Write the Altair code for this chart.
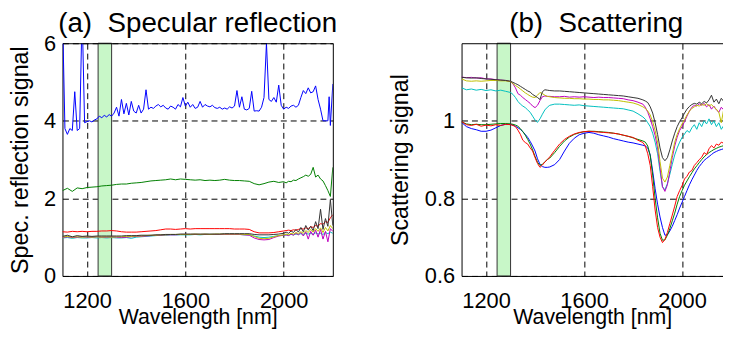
import altair as alt
import pandas as pd

FONT = "Liberation Sans"
SERIES = ["b", "g", "r", "c", "m", "y", "k"]
COLORS = ["#0000ff", "#008000", "#ff0000", "#00bfbf", "#bf00bf", "#bfbf00", "#333333"]

band_start = [1245]
band_end = [1300]

# ---------------- panel (a): specular reflection ----------------
wl_a_blue = [1100, 1110, 1120, 1130, 1140, 1150, 1160, 1170, 1180, 1190,
             1200, 1210, 1220, 1230, 1240, 1250, 1260, 1270, 1280, 1290,
             1300, 1310, 1320, 1330, 1340, 1350, 1360, 1370, 1380, 1390,
             1400, 1410, 1420, 1430, 1440, 1450, 1460, 1470, 1480, 1490,
             1500, 1510, 1520, 1530, 1540, 1550, 1560, 1570, 1580, 1590,
             1600, 1610, 1620, 1630, 1640, 1650, 1660, 1670, 1680, 1690,
             1700, 1710, 1720, 1730, 1740, 1750, 1760, 1770, 1780, 1790,
             1800, 1810, 1820, 1830, 1840, 1850, 1860, 1870, 1880, 1890,
             1900, 1910, 1920, 1930, 1940, 1950, 1960, 1970, 1980, 1990,
             2000, 2010, 2020, 2030, 2040, 2050, 2060, 2070, 2080, 2090,
             2100, 2110, 2120, 2130, 2140, 2150, 2160, 2170, 2180, 2185,
             2190, 2200]
spec_blue = [6.8, 3.8, 3.65, 3.8, 3.75, 4.75, 3.75, 3.8, 6.8, 3.95,
             3.98, 4.0, 3.97, 4.02, 4.05, 4.12, 4.08, 4.14, 4.1, 4.16,
             4.12, 4.2, 4.35, 4.12, 4.55, 4.18, 4.45, 4.15, 4.5, 4.25,
             4.2, 4.4, 4.2, 4.3, 4.8, 4.3, 4.35, 4.32, 4.38, 4.42,
             4.36, 4.4, 4.33, 4.3, 4.38, 4.35, 4.3, 4.42, 4.36, 4.6,
             4.38, 4.48, 4.35, 4.42, 4.32, 4.35, 4.5, 4.35, 4.42, 4.38,
             4.36, 4.4, 4.34, 4.32, 4.35, 4.3, 4.33, 4.3, 4.36, 4.33,
             4.38, 4.78, 4.35, 4.62, 4.3, 4.28, 4.32, 4.76, 4.25, 4.26,
             4.25, 4.35, 4.6, 6.0, 4.55, 4.5, 4.6, 4.48, 4.92, 4.4,
             4.3, 4.35, 4.32, 4.38, 4.4, 4.35, 4.4, 4.6, 4.78, 4.7,
             4.85, 4.72, 4.75, 4.9, 4.55, 4.3, 4.0, 4.0, 4.0, 4.62,
             3.88, 4.95]

wl_a = [1100, 1120, 1140, 1160, 1180, 1200, 1220, 1240, 1260, 1280,
        1300, 1320, 1340, 1360, 1380, 1400, 1420, 1440, 1460, 1480,
        1500, 1520, 1540, 1560, 1580, 1600, 1620, 1640, 1660, 1680,
        1700, 1720, 1740, 1760, 1780, 1800, 1820, 1840, 1860, 1880,
        1900, 1920, 1940, 1960, 1980, 2000,
        2010, 2020, 2030, 2040, 2050, 2060, 2070, 2080, 2090, 2100,
        2110, 2120, 2130, 2140, 2150, 2160, 2170, 2180, 2190, 2200]
spec_green = [2.20, 2.26, 2.18, 2.27, 2.25, 2.28, 2.29, 2.30, 2.32, 2.33,
              2.34, 2.36, 2.37, 2.37, 2.39, 2.40, 2.41, 2.43, 2.45, 2.46,
              2.47, 2.48, 2.50, 2.48, 2.50, 2.49, 2.48, 2.47, 2.48, 2.46,
              2.47, 2.46, 2.47, 2.49, 2.47, 2.46, 2.46, 2.45, 2.44, 2.38,
              2.35, 2.38, 2.42, 2.44, 2.41, 2.43,
              2.40, 2.44, 2.43, 2.47, 2.46, 2.50, 2.53, 2.56, 2.60, 2.57,
              2.62, 2.80, 2.55, 2.60, 2.50, 2.45, 2.33, 2.20, 2.05, 2.80]
spec_red = [1.14, 1.13, 1.15, 1.14, 1.15, 1.14, 1.15, 1.15, 1.16, 1.16,
            1.17, 1.16, 1.14, 1.13, 1.13, 1.13, 1.14, 1.15, 1.16, 1.17,
            1.19, 1.21, 1.21, 1.20, 1.21, 1.22, 1.21, 1.22, 1.22, 1.22,
            1.22, 1.22, 1.22, 1.22, 1.22, 1.21, 1.21, 1.21, 1.20, 1.14,
            1.11, 1.11, 1.11, 1.12, 1.14, 1.16,
            1.17, 1.18, 1.17, 1.19, 1.18, 1.20, 1.22, 1.21, 1.24, 1.22,
            1.27, 1.25, 1.30, 1.28, 1.35, 1.33, 1.40, 1.38, 1.50, 1.58]
spec_cyan = [0.98, 0.99, 0.97, 0.99, 0.98, 0.98, 0.99, 0.98, 0.99, 0.98,
             0.99, 0.98, 0.98, 0.99, 0.97, 1.00, 1.01, 1.02, 1.03, 1.04,
             1.05, 1.05, 1.06, 1.06, 1.06, 1.06, 1.06, 1.07, 1.06, 1.07,
             1.07, 1.07, 1.07, 1.07, 1.07, 1.07, 1.07, 1.06, 1.06, 1.03,
             1.00, 0.99, 1.00, 1.02, 1.04, 1.05,
             1.06, 1.05, 1.07, 1.06, 1.08, 1.07, 1.09, 1.07, 1.10, 1.08,
             1.10, 1.07, 1.11, 1.08, 1.10, 1.07, 1.12, 1.09, 1.13, 1.10]
spec_magenta = [0.99, 1.01, 0.99, 1.00, 1.01, 1.00, 1.00, 1.01, 1.00, 1.00,
                1.01, 1.00, 0.99, 1.00, 1.01, 1.02, 1.02, 1.03, 1.04, 1.05,
                1.05, 1.06, 1.06, 1.06, 1.07, 1.07, 1.07, 1.07, 1.07, 1.07,
                1.07, 1.07, 1.07, 1.07, 1.07, 1.07, 1.07, 1.06, 1.05, 0.98,
                0.94, 0.93, 0.94, 0.99, 1.03, 1.05,
                1.06, 1.04, 1.08, 1.05, 1.10, 1.06, 1.12, 1.03, 1.14, 0.95,
                1.15, 1.05, 1.18, 1.00, 1.20, 0.95, 1.15, 0.88, 1.22, 1.15]
spec_yellow = [1.00, 1.02, 1.00, 1.01, 1.00, 1.01, 1.00, 1.01, 1.00, 1.01,
               1.00, 1.01, 1.01, 1.02, 1.02, 1.03, 1.03, 1.04, 1.05, 1.05,
               1.06, 1.06, 1.07, 1.07, 1.07, 1.07, 1.07, 1.08, 1.07, 1.08,
               1.07, 1.08, 1.08, 1.08, 1.08, 1.08, 1.08, 1.07, 1.07, 1.02,
               0.97, 0.96, 0.97, 1.01, 1.04, 1.06,
               1.08, 1.06, 1.10, 1.08, 1.12, 1.09, 1.14, 1.10, 1.17, 1.12,
               1.20, 1.13, 1.22, 1.15, 1.24, 1.12, 1.25, 1.16, 1.30, 1.22]
spec_black = [1.02, 1.05, 1.01, 1.04, 1.02, 1.03, 1.02, 1.03, 1.03, 1.03,
              1.03, 1.03, 1.03, 1.04, 1.04, 1.04, 1.05, 1.05, 1.05, 1.06,
              1.06, 1.07, 1.07, 1.07, 1.08, 1.08, 1.08, 1.08, 1.08, 1.08,
              1.08, 1.08, 1.08, 1.09, 1.09, 1.09, 1.09, 1.09, 1.09, 1.07,
              1.06, 1.06, 1.06, 1.07, 1.08, 1.10,
              1.13, 1.10, 1.16, 1.12, 1.20, 1.13, 1.25, 1.14, 1.30, 1.18,
              1.28, 1.17, 1.40, 1.22, 1.72, 1.20, 1.48, 1.28, 1.97, 1.30]

# ---------------- panel (b): scattering ----------------
wl_b = [1100, 1120, 1140, 1160, 1180, 1200, 1220, 1240, 1260, 1280, 1300,
        1310, 1320, 1330, 1340, 1350, 1360, 1370, 1380, 1390, 1400, 1410, 1420, 1430, 1440, 1450,
        1460, 1480, 1500, 1520, 1540, 1560, 1580, 1600, 1620, 1640, 1660, 1680, 1700, 1720, 1740,
        1760, 1780, 1800, 1820, 1840,
        1850, 1860, 1870, 1880, 1890, 1900, 1910, 1920, 1930, 1940, 1950, 1960, 1970, 1980, 1990,
        2000, 2010, 2020, 2030, 2040, 2050, 2060, 2070, 2080, 2090, 2100, 2110, 2120, 2130, 2140,
        2150, 2160, 2170, 2180, 2190, 2200]
scat_black = [1.112, 1.111, 1.110, 1.111, 1.109, 1.108, 1.107, 1.106, 1.105, 1.104, 1.102,
              1.099, 1.096, 1.093, 1.089, 1.085, 1.081, 1.077, 1.074, 1.068, 1.064, 1.060, 1.055, 1.075, 1.080, 1.079,
              1.078, 1.077, 1.077, 1.076, 1.075, 1.074, 1.073, 1.072, 1.071, 1.070, 1.069, 1.068, 1.067, 1.066, 1.065,
              1.064, 1.062, 1.060, 1.058, 1.054,
              1.051, 1.047, 1.036, 1.020, 0.995, 0.965, 0.930, 0.905, 0.897, 0.905, 0.925, 0.948, 0.968, 0.985, 0.998,
              1.008, 1.020, 1.030, 1.037, 1.042, 1.045, 1.043, 1.048, 1.044, 1.050, 1.046, 1.054, 1.066, 1.048, 1.056,
              1.044, 1.058, 1.050, 1.056, 1.049, 1.054]
scat_magenta = [1.113, 1.111, 1.112, 1.110, 1.111, 1.108, 1.108, 1.106, 1.105, 1.104, 1.101,
                1.095, 1.085, 1.070, 1.066, 1.060, 1.055, 1.050, 1.045, 1.038, 1.034, 1.040, 1.052, 1.062, 1.064, 1.063,
                1.063, 1.062, 1.062, 1.063, 1.061, 1.062, 1.061, 1.062, 1.061, 1.060, 1.061, 1.060, 1.060, 1.059, 1.058,
                1.057, 1.054, 1.052, 1.048, 1.043,
                1.035, 1.022, 1.005, 0.985, 0.962, 0.930, 0.880, 0.830, 0.818, 0.835, 0.870, 0.905, 0.935, 0.958, 0.975,
                0.985, 0.998, 1.012, 1.025, 1.035, 1.040, 1.038, 1.044, 1.040, 1.045, 1.036, 1.042, 1.030, 1.038, 1.028,
                1.022, 1.035, 1.028, 1.025, 1.030, 1.028]
scat_yellow = [1.108, 1.103, 1.102, 1.103, 1.102, 1.103, 1.104, 1.104, 1.103, 1.103, 1.101,
               1.096, 1.091, 1.087, 1.082, 1.077, 1.072, 1.068, 1.064, 1.061, 1.060, 1.066, 1.073, 1.070, 1.066, 1.063,
               1.062, 1.060, 1.059, 1.058, 1.058, 1.057, 1.057, 1.056, 1.056, 1.055, 1.055, 1.054, 1.054, 1.053, 1.052,
               1.050, 1.048, 1.046, 1.042, 1.036,
               1.032, 1.025, 1.015, 0.998, 0.975, 0.945, 0.895, 0.852, 0.842, 0.855, 0.885, 0.915, 0.945, 0.965, 0.980,
               0.992, 1.003, 1.015, 1.025, 1.032, 1.036, 1.040, 1.038, 1.042, 1.040, 1.044, 1.038, 1.042, 1.035, 1.030,
               1.022, 0.995, 1.030, 1.035, 1.040, 1.038]
scat_cyan = [1.085, 1.080, 1.082, 1.079, 1.081, 1.078, 1.080, 1.077, 1.079, 1.076, 1.073,
             1.068, 1.060, 1.050, 1.043, 1.038, 1.034, 1.028, 1.022, 1.012, 1.002, 0.996, 1.005, 1.017, 1.028, 1.035,
             1.040, 1.043, 1.043, 1.042, 1.041, 1.040, 1.041, 1.039, 1.038, 1.037, 1.036, 1.035, 1.034, 1.033, 1.032,
             1.031, 1.028, 1.025, 1.018, 1.010,
             1.004, 0.995, 0.985, 0.968, 0.945, 0.915, 0.870, 0.830, 0.822, 0.838, 0.862, 0.888, 0.912, 0.930, 0.945,
             0.957, 0.966, 0.975, 0.970, 0.982, 0.990, 0.978, 0.995, 0.985, 1.000, 0.992, 1.005, 0.990, 1.000, 0.985,
             0.995, 0.978, 0.988, 0.982, 0.990, 0.985]
scat_blue = [0.996, 0.985, 0.980, 0.977, 0.973, 0.973, 0.976, 0.982, 0.988, 0.991, 0.991,
             0.989, 0.986, 0.982, 0.978, 0.972, 0.965, 0.957, 0.947, 0.935, 0.922, 0.902, 0.888, 0.882, 0.880, 0.880,
             0.881, 0.887, 0.900, 0.922, 0.942, 0.955, 0.964, 0.968, 0.970, 0.968, 0.964, 0.961, 0.958, 0.954, 0.951,
             0.948, 0.945, 0.943, 0.940, 0.937,
             0.935, 0.930, 0.912, 0.870, 0.825, 0.785, 0.752, 0.725, 0.705, 0.706, 0.716, 0.728, 0.743, 0.758, 0.775,
             0.790, 0.805, 0.820, 0.835, 0.848, 0.860, 0.872, 0.882, 0.890, 0.898, 0.903, 0.908, 0.913, 0.918, 0.921,
             0.924, 0.926, 0.928, 0.930, 0.932, 0.934]
scat_red = [0.998, 0.990, 0.988, 0.991, 0.986, 0.989, 0.987, 0.990, 0.988, 0.991, 0.990,
            0.988, 0.985, 0.976, 0.965, 0.950, 0.944, 0.940, 0.930, 0.922, 0.905, 0.890, 0.880, 0.886, 0.894, 0.900,
            0.907, 0.924, 0.940, 0.952, 0.960, 0.966, 0.970, 0.972, 0.973, 0.972, 0.971, 0.970, 0.969, 0.968, 0.966,
            0.963, 0.960, 0.957, 0.950, 0.944,
            0.935, 0.915, 0.885, 0.830, 0.770, 0.725, 0.700, 0.686, 0.694, 0.712, 0.735, 0.757, 0.780, 0.805, 0.820,
            0.833, 0.850, 0.857, 0.868, 0.872, 0.885, 0.892, 0.900, 0.906, 0.918, 0.913, 0.928, 0.936, 0.930, 0.940,
            0.937, 0.945, 0.942, 0.948, 0.945, 0.950]
scat_green = [0.997, 0.992, 0.990, 0.991, 0.990, 0.990, 0.991, 0.992, 0.993, 0.993, 0.992,
              0.991, 0.989, 0.986, 0.980, 0.972, 0.963, 0.952, 0.940, 0.925, 0.908, 0.893, 0.885, 0.888, 0.894, 0.900,
              0.904, 0.918, 0.934, 0.948, 0.958, 0.965, 0.969, 0.972, 0.973, 0.973, 0.972, 0.971, 0.970, 0.968, 0.966,
              0.963, 0.960, 0.956, 0.952, 0.948,
              0.945, 0.935, 0.910, 0.860, 0.800, 0.750, 0.710, 0.692, 0.693, 0.705, 0.722, 0.742, 0.762, 0.785, 0.805,
              0.820, 0.834, 0.845, 0.856, 0.866, 0.876, 0.884, 0.892, 0.900, 0.907, 0.913, 0.918, 0.922, 0.926, 0.929,
              0.932, 0.934, 0.936, 0.938, 0.940, 0.940]


def long_frame(items):
    rows = []
    for s, wl, vals in items:
        for w, v in zip(wl, vals):
            rows.append({"series": s, "wl": w, "val": v})
    return pd.DataFrame(rows)


df_a = long_frame([
    ("b", wl_a_blue, spec_blue), ("g", wl_a, spec_green), ("r", wl_a, spec_red),
    ("c", wl_a, spec_cyan), ("m", wl_a, spec_magenta), ("y", wl_a, spec_yellow),
    ("k", wl_a, spec_black)])
df_b = long_frame([
    ("b", wl_b, scat_blue), ("g", wl_b, scat_green), ("r", wl_b, scat_red),
    ("c", wl_b, scat_cyan), ("m", wl_b, scat_magenta), ("y", wl_b, scat_yellow),
    ("k", wl_b, scat_black)])
df_band = pd.DataFrame({"start": band_start, "end": band_end})

color = alt.Color("series:N", scale=alt.Scale(domain=SERIES, range=COLORS), legend=None)

LABEL_SIZE = 22
AX = dict(labelFont=FONT, titleFont=FONT, labelFontSize=LABEL_SIZE,
          labelColor="black", titleColor="black", titleFontWeight="normal")


def main_x(domain):
    return alt.X("wl:Q", scale=alt.Scale(domain=domain, nice=False, zero=False),
                 axis=alt.Axis(values=[1200, 1600, 2000], format="d", title="Wavelength [nm]",
                               grid=True, gridDash=[6, 4], gridColor="black", gridOpacity=1,
                               ticks=False, tickSize=0, domain=True, domainColor="black",
                               labelPadding=15, titlePadding=-5, titleFontSize=21.5, **AX))


def main_y(domain, values, fmt, title, tpad):
    return alt.Y("val:Q", scale=alt.Scale(domain=domain, nice=False, zero=False),
                 axis=alt.Axis(values=values, format=fmt, title=title,
                               grid=True, gridDash=[6, 4], gridColor="black", gridOpacity=1,
                               ticks=False, tickSize=0, domain=True, domainColor="black",
                               labelPadding=7, titlePadding=tpad, titleFontSize=23.5, **AX))


def border_layer(df, domain_x, domain_y, with_right):
    top_axis = alt.Axis(orient="top", labels=False, ticks=False, grid=False, domain=True,
                        domainColor="black", title=None, zindex=1)
    right_axis = (alt.Axis(orient="right", labels=False, ticks=False, grid=False, domain=True,
                           domainColor="black", title=None, zindex=1) if with_right else None)
    return alt.Chart(df).mark_line(opacity=0, clip=True).encode(
        x=alt.X("wl:Q", scale=alt.Scale(domain=domain_x, nice=False, zero=False), axis=top_axis),
        y=alt.Y("val:Q", scale=alt.Scale(domain=domain_y, nice=False, zero=False), axis=right_axis),
        detail="series:N")


def band_layer():
    return alt.Chart(df_band).mark_rect(fill="#c8f7c8", stroke="#333333", strokeWidth=1).encode(
        x=alt.X("start:Q", axis=None), x2="end:Q")


PLOT_H = 235

# panel a
dom_xa = [1100, 2200]
dom_ya = [0, 6]
lines_a = alt.Chart(df_a).mark_line(strokeWidth=1, clip=True).encode(
    x=main_x(dom_xa),
    y=main_y(dom_ya, [0, 2, 4, 6], "d", "Spec. reflection signal", 11.5),
    color=color)
panel_a = alt.layer(band_layer(), lines_a, border_layer(df_a, dom_xa, dom_ya, True)).resolve_axis(
    x="independent", y="independent").properties(
    width=273, height=PLOT_H,
    title=alt.TitleParams("(a)\u00a0 Specular reflection", fontSize=28, font=FONT,
                          fontWeight="normal", frame="group", anchor="middle", offset=-6, color="black"))

# panel b
dom_xb = [1100, 2167]
dom_yb = [0.6, 1.2]
lines_b = alt.Chart(df_b).mark_line(strokeWidth=1, clip=True).encode(
    x=main_x(dom_xb),
    y=main_y(dom_yb, [0.6, 0.8, 1.0], "~g", "Scattering signal", 12.5),
    color=color)
panel_b = alt.layer(band_layer(), lines_b, border_layer(df_b, dom_xb, dom_yb, False)).resolve_axis(
    x="independent", y="independent").properties(
    width=264, height=PLOT_H,
    title=alt.TitleParams("(b)\u00a0 Scattering", fontSize=28, font=FONT, fontWeight="normal",
                          frame="group", anchor="middle", offset=5, dx=4, color="black"))

chart = alt.hconcat(panel_a, panel_b, spacing=130, bounds="flush").properties(
    padding={"left": 0, "top": 0, "right": 0, "bottom": 0},
    background="white"
).configure_view(stroke=None)

chart.save("out.html", embed_options={"renderer": "svg", "actions": False})
